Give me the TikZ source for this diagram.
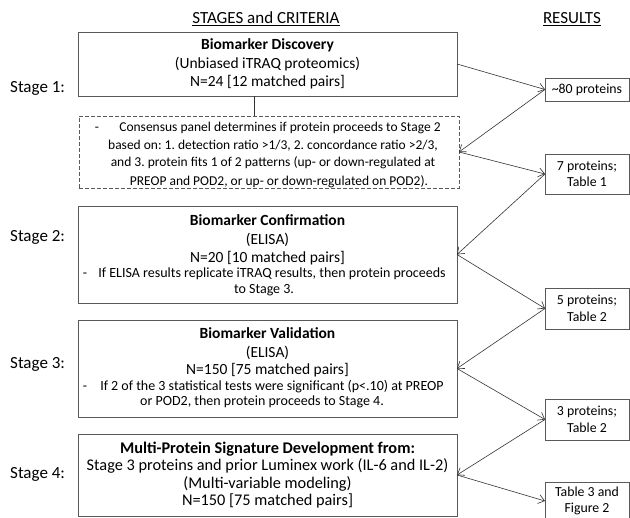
\documentclass[tikz,border=0pt]{standalone}
\usepackage{fontspec}
\setmainfont{Carlito}
\usetikzlibrary{arrows.meta}
\begin{document}
\frenchspacing
\begin{tikzpicture}[x=1pt,y=-1pt,
  box/.style={draw=black!65, line width=0.9pt, rectangle, inner sep=0, outer sep=0},
  dbox/.style={box, dash pattern=on 4pt off 2pt},
  res/.style={draw=black!65, line width=0.9pt, inner sep=0, outer sep=0, align=center, font=\fontsize{13.8}{16.5}\selectfont, minimum width=84pt},
  t/.style={inner sep=0, anchor=base, font=\fontsize{15.5}{17}\selectfont},
  tb/.style={inner sep=0, anchor=base, font=\fontsize{15.5}{17}\selectfont\bfseries},
  tl/.style={inner sep=0, anchor=base, font=\fontsize{16.3}{17}\selectfont},
  tlb/.style={inner sep=0, anchor=base, font=\fontsize{16.3}{17}\selectfont\bfseries},
  ts/.style={inner sep=0, anchor=base, font=\fontsize{14}{15}\selectfont},
  td/.style={inner sep=0, anchor=base, font=\fontsize{13.5}{15}\selectfont},
  stg/.style={inner sep=0, anchor=base west, font=\fontsize{17}{20}\selectfont},
  ttl/.style={inner sep=0, anchor=base, font=\fontsize{17}{20}\selectfont},
  plain/.style={draw=black!80, line width=0.6pt},
  conn/.style={plain, -{Straight Barb[length=6pt,width=9pt]}}
]
\useasboundingbox (0,0) rectangle (630,518);

% titles
\node[ttl] (h1) at (266,24) {\underline{STAGES and CRITERIA}};
\node[ttl] (h2) at (572,24) {\underline{RESULTS}};

% stage labels
\node[stg] (s1) at (10,92.8) {Stage 1:};
\node[stg] (s2) at (10,242) {Stage 2:};
\node[stg] (s3) at (10,369) {Stage 3:};
\node[stg] (s4) at (10,479) {Stage 4:};

% boxes
\node[box, minimum width=379pt, minimum height=64pt] (b1) at (267.5,64) {};
\node[dbox, minimum width=380pt, minimum height=72pt] (d) at (269,152) {};
\node[box, minimum width=379pt, minimum height=97pt] (b2) at (267.5,254.5) {};
\node[box, minimum width=379pt, minimum height=97pt] (b3) at (267.5,368.5) {};
\node[box, minimum width=379pt, minimum height=82pt] (b4) at (267.5,475) {};

% box 1 text
\node[tb] (b1a) at (267.5,50) {Biomarker Discovery};
\node[t] (b1b) at (267.5,68.5) {(Unbiased iTRAQ proteomics)};
\node[t] (b1c) at (267.5,86.7) {N=24 [12 matched pairs]};

% dashed box text
\node[td] (d0) at (97,132) {-};
\node[td] (d1) at (280,132) {Consensus panel determines if protein proceeds to Stage 2};
\node[td] (d2) at (273,149.5) {based on: 1. detection ratio >1/3, 2. concordance ratio >2/3,};
\node[td] (d3) at (273,167) {and 3. protein fits 1 of 2 patterns (up- or down-regulated at};
\node[td] (d4) at (279,185.2) {PREOP and POD2, or up- or down-regulated on POD2).};

% box 2 text
\node[tb] (b2a) at (267.5,225.7) {Biomarker Confirmation};
\node[t] (b2b) at (267.5,244.3) {(ELISA)};
\node[t] (b2c) at (267.5,262.7) {N=20 [10 matched pairs]};
\node[ts] (b2d0) at (85,278) {-};
\node[ts] (b2d) at (272,278) {If ELISA results replicate iTRAQ results, then protein proceeds};
\node[ts] (b2e) at (264,293.3) {to Stage 3.};

% box 3 text
\node[tb] (b3a) at (267.5,338.3) {Biomarker Validation};
\node[t] (b3b) at (267.5,357.7) {(ELISA)};
\node[t] (b3c) at (267.5,375) {N=150 [75 matched pairs]};
\node[ts] (b3d0) at (85,390.7) {-};
\node[ts] (b3d) at (272,390.7) {If 2 of the 3 statistical tests were significant (p<.10) at PREOP};
\node[ts] (b3e) at (262,405.7) {or POD2, then protein proceeds to Stage 4.};

% box 4 text
\node[tlb] (b4a) at (267.5,453.5) {Multi-Protein Signature Development from:};
\node[tl] (b4b) at (267.5,470.3) {Stage 3 proteins and prior Luminex work (IL-6 and IL-2)};
\node[tl] (b4c) at (267.5,488.5) {(Multi-variable modeling)};
\node[tl] (b4d) at (267.5,505.3) {N=150 [75 matched pairs]};

% result boxes
\node[res, minimum height=23pt] (r1) at (587,89.5) {\textasciitilde80 proteins};
\node[res, minimum height=40pt] (r2) at (587,174) {7 proteins;\\Table 1};
\node[res, minimum height=41pt] (r3) at (587,308.5) {5 proteins;\\Table 2};
\node[res, minimum height=41pt] (r4) at (587,419.5) {3 proteins;\\Table 2};
\node[res, minimum height=38pt] (r5) at (587,501) {Table 3 and\\Figure 2};

% connectors
\draw[plain] ([xshift=-13.5pt]b1.south) -- ([xshift=-13.5pt]b1.south |- d.north);
\draw[conn] (b1.east) -- (r1.west);
\draw[conn] (r1.west) -- (d.east);
\draw[conn] (d.east) -- (r2.west);
\draw[conn] (r2.west) -- (b2.east);
\draw[conn] (b2.east) -- (r3.west);
\draw[conn] (r3.west) -- (b3.east);
\draw[conn] (b3.east) -- (r4.west);
\draw[conn] (r4.west) -- (b4.east);
\draw[conn] (b4.east) -- (r5.west);
\end{tikzpicture}
\end{document}
